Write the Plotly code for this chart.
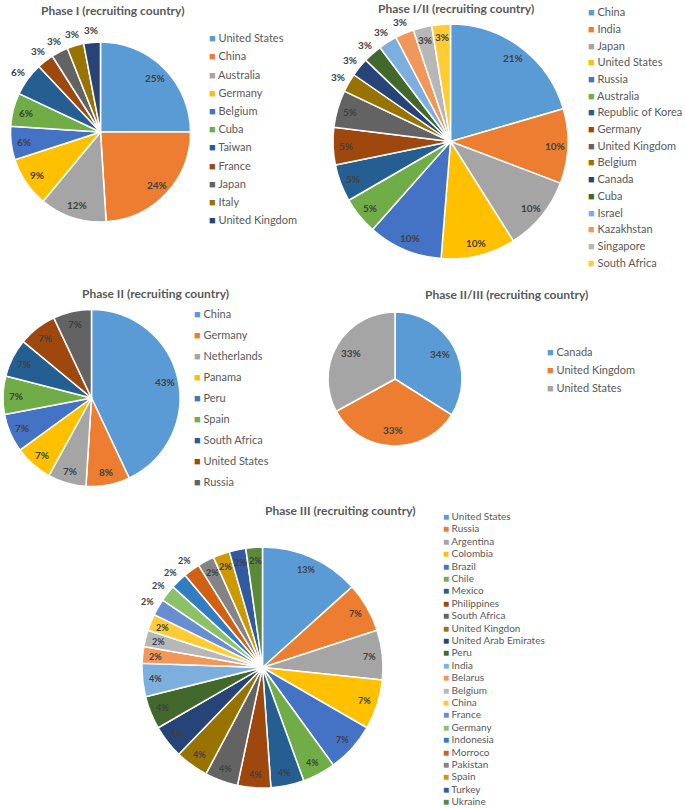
import math
import plotly.graph_objects as go

W, H = 685, 808

# Excel/Office default palette
OFFICE = ["#5B9BD5", "#ED7D31", "#A5A5A5", "#FFC000", "#4472C4", "#70AD47",
          "#255E91", "#9E480E", "#636363", "#997300", "#264478", "#43682B",
          "#7CAFDD", "#F1975A", "#B7B7B7", "#FFCD33", "#698ED0", "#8CC168",
          "#327DC2", "#D26012", "#848484", "#CC9A00", "#335AA1", "#5A8A39"]

# Data: percentages as labelled, or trial counts where the labels are rounded shares
phase1_countries = ["United States", "China", "Australia", "Germany", "Belgium", "Cuba",
                    "Taiwan", "France", "Japan", "Italy", "United Kingdom"]
phase1_pct = [25, 24, 12, 9, 6, 6, 6, 3, 3, 3, 3]

phase12_countries = ["China", "India", "Japan", "United States", "Russia", "Australia",
                     "Republic of Korea", "Germany", "United Kingdom", "Belgium", "Canada",
                     "Cuba", "Israel", "Kazakhstan", "Singapore", "South Africa"]
phase12_trials = [8, 4, 4, 4, 4, 2, 2, 2, 2, 1, 1, 1, 1, 1, 1, 1]  # 21%, 10%, 5%, 3% of 39

phase2_countries = ["China", "Germany", "Netherlands", "Panama", "Peru", "Spain",
                    "South Africa", "United States", "Russia"]
phase2_pct = [43, 8, 7, 7, 7, 7, 7, 7, 7]

phase23_countries = ["Canada", "United Kingdom", "United States"]
phase23_pct = [34, 33, 33]

phase3_countries = ["United States", "Russia", "Argentina", "Colombia", "Brazil", "Chile",
                    "Mexico", "Philippines", "South Africa", "United Kingdon",
                    "United Arab Emirates", "Peru", "India", "Belarus", "Belgium", "China",
                    "France", "Germany", "Indonesia", "Morroco", "Pakistan", "Spain",
                    "Turkey", "Ukraine"]
phase3_trials = [6, 3, 3, 3, 3, 2, 2, 2, 2, 2, 2, 2, 2,
                 1, 1, 1, 1, 1, 1, 1, 1, 1, 1, 1]  # 13%, 7%, 4%, 2% of 45

# slices whose label sits outside the pie
phase1_outside = {"Taiwan", "France", "Japan", "Italy", "United Kingdom"}
phase12_outside = {"Belgium", "Canada", "Cuba", "Israel", "Kazakhstan"}
phase3_outside = {"France", "Germany", "Indonesia", "Morroco"}


def px_x(x):
    return x / W


def px_y(y):
    return 1 - y / H


def add_pie(fig, labels, values, box, outside=(), inset=13, size=10):
    x0, y0, x1, y1 = box
    fig.add_trace(
        go.Pie(
            labels=labels,
            values=values,
            sort=False,
            direction="clockwise",
            rotation=0,
            marker=dict(colors=OFFICE[:len(labels)], line=dict(color="white", width=1.5)),
            textinfo="none",
            showlegend=False,
            domain=dict(x=[px_x(x0), px_x(x1)], y=[px_y(y1), px_y(y0)]),
        )
    )
    # Excel-style data labels, placed along each slice's mid angle
    cx, cy = (x0 + x1) / 2, (y0 + y1) / 2
    r = min(x1 - x0, y1 - y0) / 2
    total = sum(values)
    cum = 0
    for lab, v in zip(labels, values):
        theta = 2 * math.pi * (cum + v / 2) / total
        cum += v
        rr = r + 12 if lab in outside else r - inset
        fig.add_annotation(
            text=f"<b>{round(100 * v / total)}%</b>",
            x=px_x(cx + rr * math.sin(theta)), y=px_y(cy - rr * math.cos(theta)),
            xref="paper", yref="paper", xanchor="center", yanchor="middle",
            showarrow=False,
            font=dict(family="Lato", size=size, color="#404040"),
        )


def add_title(fig, text, cx, cy):
    fig.add_annotation(
        text=f"<b>{text}</b>", x=px_x(cx), y=px_y(cy), xref="paper", yref="paper",
        xanchor="center", yanchor="middle", showarrow=False,
        font=dict(family="Lato", size=12, color="#595959"),
    )


def add_legend(fig, labels, x, y_first, dy, size=11):
    for i, lab in enumerate(labels):
        fig.add_annotation(
            text=f"<span style='color:{OFFICE[i]}'>■</span> {lab}",
            x=px_x(x), y=px_y(y_first + i * dy), xref="paper", yref="paper",
            xanchor="left", yanchor="middle", showarrow=False,
            font=dict(family="Lato", size=size, color="#595959"),
        )


fig = go.Figure()

add_pie(fig, phase1_countries, phase1_pct, (10, 42, 191, 222), phase1_outside)
add_pie(fig, phase12_countries, phase12_trials, (333, 24, 568, 259), phase12_outside)
add_pie(fig, phase2_countries, phase2_pct, (3, 309, 180, 487))
add_pie(fig, phase23_countries, phase23_pct, (328, 312, 462, 446), inset=16)
add_pie(fig, phase3_countries, phase3_trials, (142, 547, 383, 788), phase3_outside, size=9)

add_title(fig, "Phase I (recruiting country)", 113, 10)
add_title(fig, "Phase I/II (recruiting country)", 456, 8)
add_title(fig, "Phase II (recruiting country)", 155, 293)
add_title(fig, "Phase II/III (recruiting country)", 506, 294)
add_title(fig, "Phase III (recruiting country)", 340, 510)

add_legend(fig, phase1_countries, 207, 37.7, 18.2)
add_legend(fig, phase12_countries, 586, 11.7, 16.7)
add_legend(fig, phase2_countries, 192, 313, 21.1)
add_legend(fig, phase23_countries, 545, 351, 18)
add_legend(fig, phase3_countries, 441, 516, 12.4, size=10)

fig.update_layout(
    width=W,
    height=H,
    margin=dict(l=0, r=0, t=0, b=0),
    paper_bgcolor="white",
    plot_bgcolor="white",
)

# drop the browser's default 8px body margin so the figure sits at the page corner
fig.write_html(
    "out.html",
    config={"displayModeBar": False},
    post_script="document.body.style.margin='0px';",
)
